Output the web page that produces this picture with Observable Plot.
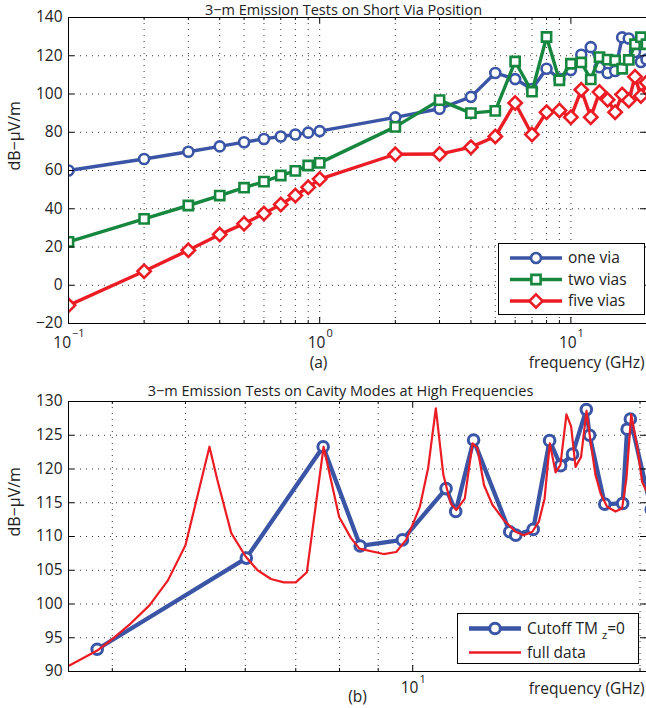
<!DOCTYPE html>
<html><head><meta charset="utf-8">
<script src="https://cdn.jsdelivr.net/npm/d3@7"></script>
<script src="https://cdn.jsdelivr.net/npm/@observablehq/plot@0.6"></script>
<style>
body{margin:0;background:#fff;}
#wrap{position:relative;width:646px;height:708px;overflow:hidden;background:#fff;}
#wrap svg{display:block;}
.legend{position:absolute;left:0;top:0;}
</style></head><body><div id="wrap"></div>
<script>
// ---------- DATA ----------
// (a) 3-m emission tests on short via position
const freqTop = [0.1,0.2,0.3,0.4,0.5,0.6,0.7,0.8,0.9,1,2,3,4,5,6,7,8,9,10,11,12,13,14,15,16,17,18,19,20];
const oneVia  = [60,66,69.8,72.6,74.8,76.5,77.8,78.8,79.8,80.6,87.8,92.3,98.5,111,107.8,102.6,113.2,108,112.5,120.5,124.5,114,111,112,129.6,129,122,116.7,118];
const twoVias = [22.7,34.7,41.7,46.9,51,54.2,57.4,59.8,62.6,64,82.8,96.8,90,91.2,117,101.2,129.8,107.2,115.8,116.5,107.6,119.3,118,117.5,113.2,117.8,126,129.7,126];
const fiveVias= [-10.5,7.3,18.3,26.5,32.2,37.5,42.2,46.9,51.2,55.5,68.5,68.6,72.2,77.8,95.3,78.8,90.5,91.4,87.9,102.2,87.9,101,97,90.5,99.7,96.6,109,99,106];
const topSeriesNames = ["one via","two vias","five vias"];

// (b) cavity modes at high frequencies
const cutoffFreq = [3.82,6.02,7.61,8.52,9.69,11.07,11.40,12.04,13.44,13.69,14.44,15.18,15.70,16.28,16.98,17.15,17.96,18.97,19.23,19.42,20.7];
const cutoffVal  = [93.3,106.8,123.3,108.6,109.5,117.1,113.7,124.3,110.7,110.2,111.05,124.2,120.5,122.2,128.8,125,114.8,114.9,125.9,127.4,114];
const fullFreq = [3.51,3.82,4.0,4.23,4.48,4.74,5.0,5.38,5.51,5.75,6.01,6.23,6.49,6.75,7.0,7.24,7.62,7.99,8.28,8.50,9.15,9.51,9.80,10.0,10.22,10.48,10.73,10.98,11.23,11.42,11.72,12.0,12.18,12.43,12.75,13.21,13.68,14.03,14.40,14.69,14.95,15.19,15.46,15.69,15.98,16.21,16.43,16.71,16.99,17.20,17.46,17.73,18.09,18.56,18.94,19.19,19.47,19.83,20.13,20.40];
const fullVal  = [90.9,93.1,94.8,97.1,99.8,103.5,108.7,123.3,118.4,110.5,107.0,105.0,103.7,103.2,103.2,104.7,123.3,112.9,109.8,108.2,107.4,107.7,109.5,111.8,114.4,120.1,129.0,119.1,114.9,113.9,115.6,123.8,123.1,117.6,114.7,112.4,110.7,110.2,110.7,112.2,115.6,123.8,119.5,120.6,128.1,126.3,120.3,121.8,128.6,124.1,119.1,116.4,114.4,113.7,114.2,118.6,128.1,123.3,118.1,116.7];
const bottomSeriesNames = ["Cutoff TM", "full data"];

// ticks
const topYTicks = [-20,0,20,40,60,80,100,120,140];
const topXMajor = [0.1,1,10];
const topXMajorExp = ["−1","0","1"];
const topXMinor = [0.2,0.3,0.4,0.5,0.6,0.7,0.8,0.9,2,3,4,5,6,7,8,9,20];
const botYTicks = [90,95,100,105,110,115,120,125,130];
const botXMajor = [10];
const botXMajorExp = ["1"];
const botXMinor = [4,5,6,7,8,9,20];

const titles = ["3−m Emission Tests on Short Via Position","3−m Emission Tests on Cavity Modes at High Frequencies"];
const yLabel = "dB−μV/m";
const xLabel = "frequency (GHz)";
const panelLabels = ["(a)","(b)"];

// ---------- STYLE ----------
const FONT = "'Open Sans', Lato, sans-serif";
const FS = 15.5, FS_EXP = 11, FS_TITLE = 14.5;
const INK = "#222";
const BLUE = "#3a55a6", GREEN = "#17873f", RED = "#ec1c24";
const GRID = {stroke: "#333", strokeDasharray: "1,5", strokeWidth: 1};
const fmt = d => d < 0 ? "−" + (-d) : String(d);
const DIGIT = 0.572; // approx. Open Sans digit advance (em)
const MID = {lineAnchor: "middle", fill: INK};

const wrap = document.getElementById("wrap");

function frameMarks({W, H, mt, mb, ml, mr, major, majorExp, minor, yTicks, tenDy, expDy}) {
  const pw = W - ml - mr, ph = H - mt - mb;
  const marks = [
    Plot.frame({stroke: "#000", strokeWidth: 1}),
    Plot.tickX(major, {x: d => d, stroke: "#000", insetTop: ph - 6}),
    Plot.tickX(major, {x: d => d, stroke: "#000", insetBottom: ph - 6}),
    Plot.tickX(minor, {x: d => d, stroke: "#000", insetTop: ph - 3}),
    Plot.tickX(minor, {x: d => d, stroke: "#000", insetBottom: ph - 3}),
    Plot.tickY(yTicks, {y: d => d, stroke: "#000", insetRight: pw - 6}),
    Plot.tickY(yTicks, {y: d => d, stroke: "#000", insetLeft: pw - 6}),
    Plot.text(yTicks, {y: d => d, text: fmt, frameAnchor: "left", textAnchor: "end", dx: -6, fontSize: FS, ...MID})
  ];
  // "10" with a raised exponent, the whole label centred on its tick
  major.forEach((t, i) => {
    const e = majorExp[i];
    const w10 = 2 * DIGIT * FS, we = e.length * DIGIT * FS_EXP;
    marks.push(Plot.text([t], {x: d => d, text: () => "10", frameAnchor: "bottom", textAnchor: "middle", dx: -we / 2, dy: tenDy, fontSize: FS, ...MID}));
    marks.push(Plot.text([t], {x: d => d, text: () => e, frameAnchor: "bottom", textAnchor: "start", dx: w10 / 2 - we / 2 + 1, dy: expDy, fontSize: FS_EXP, ...MID}));
  });
  return marks;
}

// ---------- TOP CHART ----------
{
  const W = 646, H = 380, mt = 17, mb = 57, ml = 68, mr = 0;
  const series = [
    {name: topSeriesNames[0], values: oneVia, color: BLUE, symbol: "circle", r: 5},
    {name: topSeriesNames[1], values: twoVias, color: GREEN, symbol: "square", r: 5.2},
    {name: topSeriesNames[2], values: fiveVias, color: RED, symbol: "diamond2", r: 6}
  ];
  const rows = series.flatMap(s => freqTop.map((f, i) => ({s: s.name, f, v: s.values[i]})));
  const marks = [
    Plot.ruleX([...topXMinor, ...topXMajor], {x: d => d, ...GRID}),
    Plot.ruleY(topYTicks, {y: d => d, ...GRID})
  ];
  for (const s of series) {
    const d = rows.filter(r => r.s === s.name);
    marks.push(Plot.line(d, {x: "f", y: "v", stroke: s.color, strokeWidth: 3.4, clip: true}));
    marks.push(Plot.dot(d, {x: "f", y: "v", symbol: s.symbol, r: s.r, stroke: s.color, strokeWidth: 2.6, fill: "white", clip: true}));
  }
  marks.push(...frameMarks({W, H, mt, mb, ml, mr, major: topXMajor, majorExp: topXMajorExp, minor: topXMinor, yTicks: topYTicks, tenDy: 20, expDy: 10}));
  marks.push(Plot.text([titles[0]], {frameAnchor: "top", dx: -14, dy: -7, fontSize: FS_TITLE, ...MID}));
  marks.push(Plot.text([yLabel], {frameAnchor: "left", rotate: -90, dx: -54, fontSize: 16, ...MID}));
  marks.push(Plot.text([xLabel], {frameAnchor: "bottom-right", textAnchor: "end", dx: -2, dy: 40, fontSize: FS, ...MID}));
  marks.push(Plot.text([panelLabels[0]], {frameAnchor: "bottom-left", textAnchor: "middle", dx: 318 - ml, dy: 40, fontSize: FS, ...MID}));

  const svg = Plot.plot({
    width: W, height: H, marginTop: mt, marginBottom: mb, marginLeft: ml, marginRight: mr,
    style: {fontFamily: FONT, background: "transparent", overflow: "visible"},
    x: {type: "log", domain: [0.1, 20], axis: null},
    y: {domain: [-20, 140], axis: null},
    marks
  });
  wrap.appendChild(svg);

  // legend (a)
  const lg = d3.select(wrap).append("svg").attr("class", "legend")
    .attr("width", 646).attr("height", 380).style("font-family", FONT);
  lg.append("rect").attr("x", 498.5).attr("y", 243.5).attr("width", 146).attr("height", 71)
    .attr("fill", "white").attr("stroke", "#000");
  const rowsY = [258, 279.5, 301];
  const sym = {circle: d3.symbolCircle, square: d3.symbolSquare, diamond2: d3.symbolDiamond2};
  series.forEach((s, i) => {
    const y = rowsY[i];
    lg.append("line").attr("x1", 510).attr("x2", 562).attr("y1", y).attr("y2", y)
      .attr("stroke", s.color).attr("stroke-width", 3.4);
    lg.append("path").attr("transform", `translate(536,${y})`)
      .attr("d", d3.symbol(sym[s.symbol], Math.PI * s.r * s.r)())
      .attr("fill", "white").attr("stroke", s.color).attr("stroke-width", 2.6);
    lg.append("text").attr("x", 568).attr("y", y).attr("dy", "0.35em").attr("font-size", FS).attr("fill", INK).text(s.name);
  });
}

// ---------- BOTTOM CHART ----------
{
  const W = 646, H = 328, mt = 21, mb = 37, ml = 68, mr = 0, oy = 380;
  const cut = cutoffFreq.map((f, i) => ({f, v: cutoffVal[i]}));
  const full = fullFreq.map((f, i) => ({f, v: fullVal[i]}));
  const marks = [
    Plot.ruleX([...botXMinor, ...botXMajor], {x: d => d, ...GRID}),
    Plot.ruleY(botYTicks, {y: d => d, ...GRID}),
    Plot.line(cut, {x: "f", y: "v", stroke: BLUE, strokeWidth: 4.3, clip: true}),
    Plot.dot(cut, {x: "f", y: "v", r: 5.3, stroke: BLUE, strokeWidth: 3, fill: "white", clip: true}),
    Plot.line(full, {x: "f", y: "v", stroke: RED, strokeWidth: 2.2, clip: true}),
    ...frameMarks({W, H, mt, mb, ml, mr, major: botXMajor, majorExp: botXMajorExp, minor: botXMinor, yTicks: botYTicks, tenDy: 17, expDy: 8}),
    Plot.text([titles[1]], {frameAnchor: "top", dx: -17, dy: -10, fontSize: FS_TITLE, ...MID}),
    Plot.text([yLabel], {frameAnchor: "left", rotate: -90, dx: -54, fontSize: 16, ...MID}),
    Plot.text([xLabel], {frameAnchor: "bottom-right", textAnchor: "end", dx: -2, dy: 18, fontSize: FS, ...MID}),
    Plot.text([panelLabels[1]], {frameAnchor: "bottom-left", textAnchor: "middle", dx: 357 - ml, dy: 26, fontSize: FS, ...MID})
  ];
  const svg = Plot.plot({
    width: W, height: H, marginTop: mt, marginBottom: mb, marginLeft: ml, marginRight: mr,
    style: {fontFamily: FONT, background: "transparent", overflow: "visible"},
    x: {type: "log", domain: [3.5, 20.4], axis: null},
    y: {domain: [90, 130], axis: null},
    marks
  });
  wrap.appendChild(svg);

  // legend (b)
  const lg = d3.select(wrap).append("svg").attr("class", "legend").style("top", oy + "px")
    .attr("width", 646).attr("height", H).style("font-family", FONT);
  lg.append("rect").attr("x", 457.5).attr("y", 613.5 - oy).attr("width", 181).attr("height", 50)
    .attr("fill", "white").attr("stroke", "#000");
  let y = 628.5 - oy;
  lg.append("line").attr("x1", 469).attr("x2", 521).attr("y1", y).attr("y2", y).attr("stroke", BLUE).attr("stroke-width", 4.3);
  lg.append("circle").attr("cx", 495).attr("cy", y).attr("r", 5.3).attr("fill", "white").attr("stroke", BLUE).attr("stroke-width", 3);
  const t = lg.append("text").attr("x", 527).attr("y", y).attr("dy", "0.35em").attr("font-size", FS).attr("fill", INK);
  t.append("tspan").text(bottomSeriesNames[0] + " ");
  t.append("tspan").attr("dy", 5).attr("font-size", 11).text("z");
  t.append("tspan").attr("dy", -5).text("=0");
  y = 652.5 - oy;
  lg.append("line").attr("x1", 469).attr("x2", 521).attr("y1", y).attr("y2", y).attr("stroke", RED).attr("stroke-width", 2.6);
  lg.append("text").attr("x", 527).attr("y", y).attr("dy", "0.35em").attr("font-size", FS).attr("fill", INK).text(bottomSeriesNames[1]);
}
</script></body></html>
